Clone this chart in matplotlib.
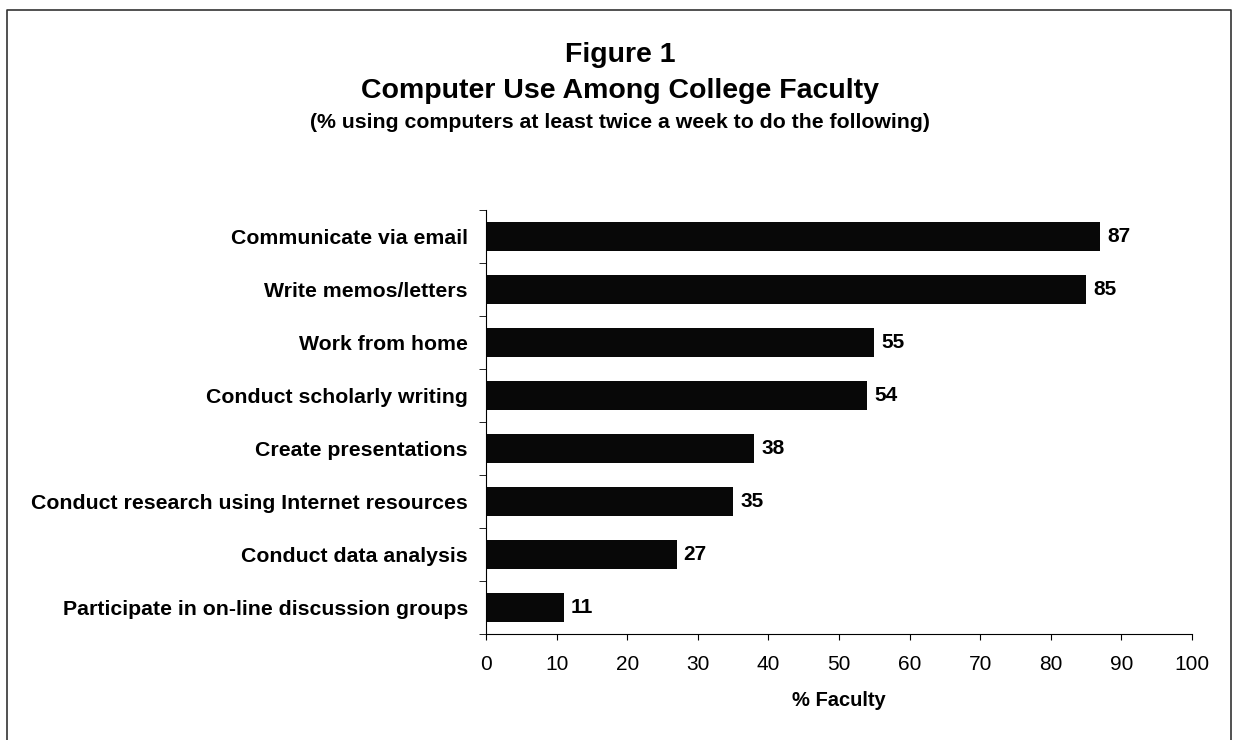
import numpy as np
import matplotlib.pyplot as plt
from matplotlib.lines import Line2D

plt.rcParams['font.family'] = ['Liberation Sans', 'DejaVu Sans']

activities = ['Communicate via email', 'Write memos/letters', 'Work from home',
              'Conduct scholarly writing', 'Create presentations',
              'Conduct research using Internet resources', 'Conduct data analysis',
              'Participate in on-line discussion groups']
percents = [87, 85, 55, 54, 38, 35, 27, 11]
xticks = [0, 10, 20, 30, 40, 50, 60, 70, 80, 90, 100]

fig = plt.figure(figsize=(12.35, 7.4), dpi=100)
ax = fig.add_axes([0.3935, 0.1432, 0.5717, 0.5730])

n = len(activities)
ypos = np.arange(n)[::-1]
ax.barh(ypos, percents, height=0.55, color='#080808')
for y, v in zip(ypos, percents):
    ax.text(v + 1.0, y, str(v), va='center', ha='left', fontsize=15, fontweight='bold')

ax.set_xlim(0, 100)
ax.set_ylim(-0.5, n - 0.5)
ax.set_xticks(xticks)
ax.set_xticklabels([str(t) for t in xticks], fontsize=15)
ax.set_yticks(ypos)
ax.set_yticklabels(activities, fontsize=15.3, fontweight='bold')
ax.tick_params(axis='y', length=0, pad=13)
ax.set_yticks(np.arange(n + 1) - 0.5, minor=True)
ax.tick_params(axis='y', which='minor', length=5, direction='out')
ax.tick_params(axis='x', length=4, direction='out', pad=11)
ax.set_xlabel('% Faculty', fontsize=14.5, fontweight='bold', labelpad=12)
for s in ['top', 'right']:
    ax.spines[s].set_visible(False)

fig.text(0.502, 0.926, 'Figure 1', ha='center', va='center', fontsize=20.5, fontweight='bold')
fig.text(0.502, 0.877, 'Computer Use Among College Faculty', ha='center', va='center',
         fontsize=20.5, fontweight='bold')
fig.text(0.502, 0.834, '(% using computers at least twice a week to do the following)',
         ha='center', va='center', fontsize=15.3, fontweight='bold')

# frame around the figure
fx = [0.006, 0.006, 0.997, 0.997]
fy = [0.0, 0.986, 0.986, 0.0]
fig.add_artist(Line2D(fx, fy, color='#333333', lw=1.2, transform=fig.transFigure))

fig.savefig('out.png', dpi=100)
